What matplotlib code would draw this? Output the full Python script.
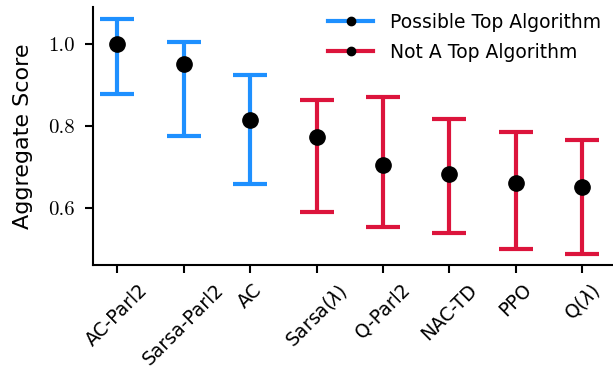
import matplotlib
matplotlib.use("Agg")
import matplotlib.pyplot as plt
from matplotlib.lines import Line2D

algorithms = ["AC-Parl2", "Sarsa-Parl2", "AC", "Sarsa($\\lambda$)", "Q-Parl2", "NAC-TD", "PPO", "Q($\\lambda$)"]
scores = [1.000, 0.951, 0.815, 0.773, 0.705, 0.683, 0.661, 0.651]
upper = [1.061, 1.005, 0.924, 0.863, 0.871, 0.817, 0.785, 0.766]
lower = [0.878, 0.776, 0.659, 0.590, 0.554, 0.537, 0.498, 0.488]
is_top = [True, True, True, False, False, False, False, False]

top_color = "#1e90ff"
other_color = "#dc143c"

fig = plt.figure(figsize=(6.13, 3.68), dpi=100)
ax = fig.add_axes([0.152, 0.28, 0.848, 0.70])

for i, (s, u, l, top) in enumerate(zip(scores, upper, lower, is_top)):
    c = top_color if top else other_color
    ax.errorbar([i], [s], yerr=[[s - l], [u - s]], fmt="none", ecolor=c,
                elinewidth=3, capsize=12, capthick=3, zorder=2)
    ax.plot([i], [s], "o", color="black", markersize=11, zorder=3)

ax.set_xlim(-0.36, 7.46)
ax.set_ylim(0.46, 1.09)
ax.set_yticks([0.6, 0.8, 1.0])
ax.set_yticklabels(["0.6", "0.8", "1.0"], fontfamily="cmr10", fontsize=15)
ax.set_xticks(range(len(algorithms)))
ax.set_xticklabels(algorithms, rotation=45, ha="center", fontsize=13.5)
ax.set_ylabel("Aggregate Score", fontsize=16, labelpad=11)

for side in ("top", "right"):
    ax.spines[side].set_visible(False)
for side in ("left", "bottom"):
    ax.spines[side].set_linewidth(1.5)
ax.tick_params(axis="both", width=1.5, length=6)
ax.tick_params(axis="y", pad=7)
ax.tick_params(axis="x", pad=5)

handles = [
    Line2D([0], [0], color=top_color, lw=3, marker="o", markerfacecolor="black",
           markeredgecolor="black", markersize=6),
    Line2D([0], [0], color=other_color, lw=3, marker="o", markerfacecolor="black",
           markeredgecolor="black", markersize=6),
]
ax.legend(handles, ["Possible Top Algorithm", "Not A Top Algorithm"],
          loc="upper right", bbox_to_anchor=(1.01, 1.045), frameon=False,
          fontsize=13.5, handlelength=2.4, handletextpad=0.9, labelspacing=0.6)

fig.savefig("out.png", dpi=100)
